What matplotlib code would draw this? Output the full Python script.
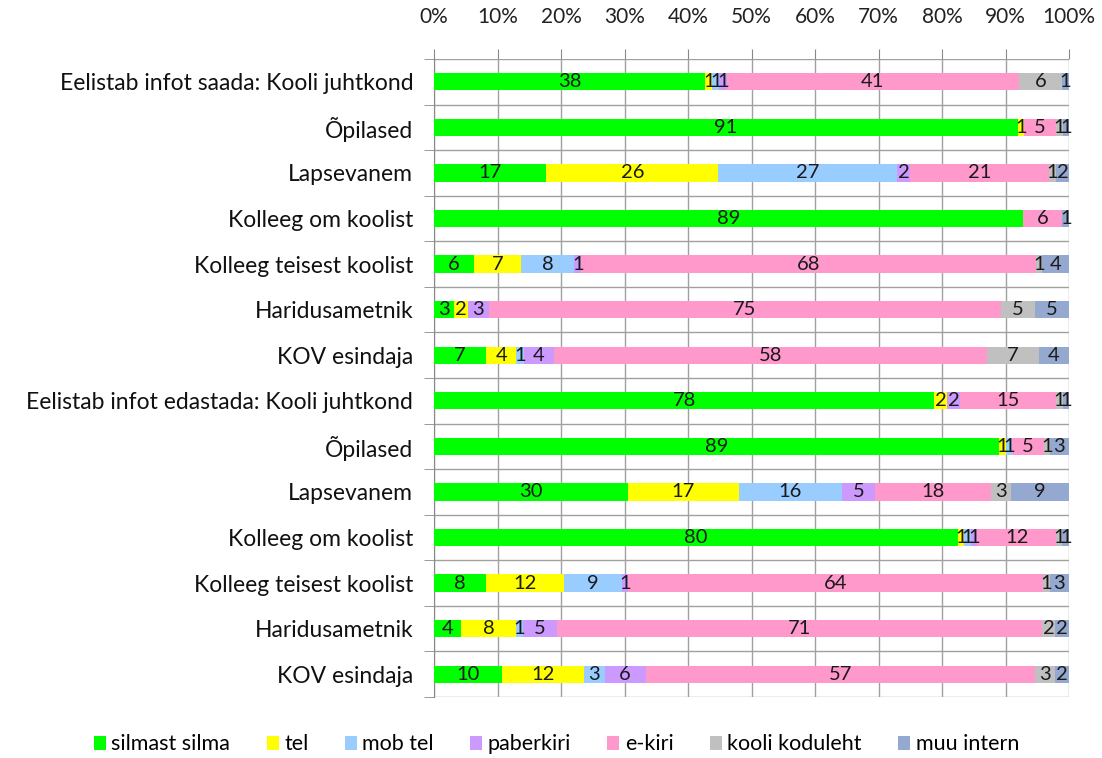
import numpy as np
import matplotlib.pyplot as plt
from matplotlib.ticker import PercentFormatter
from matplotlib.patches import Patch

plt.rcParams['font.family'] = ['Lato', 'DejaVu Sans']

# --- andmed ---
kategooriad = [
    "Eelistab infot saada: Kooli juhtkond", "Õpilased", "Lapsevanem",
    "Kolleeg om koolist", "Kolleeg teisest koolist", "Haridusametnik",
    "KOV esindaja",
    "Eelistab infot edastada: Kooli juhtkond", "Õpilased", "Lapsevanem",
    "Kolleeg om koolist", "Kolleeg teisest koolist", "Haridusametnik",
    "KOV esindaja",
]
seeriad = ["silmast silma", "tel", "mob tel", "paberkiri", "e-kiri",
           "kooli koduleht", "muu intern"]

silmast = [38, 91, 17, 89, 6, 3, 7, 78, 89, 30, 80, 8, 4, 10]
tel     = [1, 1, 26, 0, 7, 2, 4, 2, 1, 17, 1, 12, 8, 12]
mob     = [1, 0, 27, 0, 8, 0, 1, 0, 1, 16, 1, 9, 1, 3]
paber   = [1, 0, 2, 0, 1, 3, 4, 2, 0, 5, 1, 1, 5, 6]
ekiri   = [41, 5, 21, 6, 68, 75, 58, 15, 5, 18, 12, 64, 71, 57]
koduleht = [6, 1, 1, 0, 1, 5, 7, 1, 1, 3, 1, 1, 2, 3]
muu     = [1, 1, 2, 1, 4, 5, 4, 1, 3, 9, 1, 3, 2, 2]

varvid = ["#00FF00", "#FFFF00", "#99CCFF", "#CC99FF", "#FF99CC",
          "#C0C0C0", "#95A8D0"]

vaartused = np.array([silmast, tel, mob, paber, ekiri, koduleht, muu], dtype=float)
summad = vaartused.sum(axis=0)
protsent = vaartused / summad * 100

fig = plt.figure(figsize=(11.02, 7.58), dpi=100)
ax = fig.add_axes([434 / 1102, 1 - 697 / 758, 635 / 1102, 638 / 758])

y = np.arange(len(kategooriad))
vasak = np.zeros(len(kategooriad))
for i, nimi in enumerate(seeriad):
    ax.barh(y, protsent[i], left=vasak, height=0.38, color=varvid[i],
            label=nimi, zorder=3)
    for j in range(len(kategooriad)):
        v = vaartused[i, j]
        if v > 0:
            ax.text(vasak[j] + protsent[i, j] / 2, y[j], f"{int(v)}",
                    ha="center", va="center", fontsize=14.5, color="#1a1a1a",
                    zorder=4)
    vasak += protsent[i]

ax.set_xlim(0, 100)
ax.set_ylim(len(kategooriad) - 0.5, -0.5)
ax.xaxis.tick_top()
ax.set_xticks(np.arange(0, 101, 10))
ax.xaxis.set_major_formatter(PercentFormatter(decimals=0))
ax.set_yticks(y)
ax.set_yticklabels(kategooriad)
ax.set_yticks(np.arange(-0.5, len(kategooriad), 1), minor=True)

ax.tick_params(axis="x", length=7, color="#888888", labelsize=15,
               pad=16, labelcolor="#222222")
ax.tick_params(axis="y", which="major", length=0, labelsize=16.5,
               pad=15, labelcolor="#111111")
ax.tick_params(axis="y", which="minor", length=7, color="#888888")

ax.grid(axis="x", color="#a0a0a0", lw=1, zorder=0)
ax.grid(axis="y", which="minor", color="#a0a0a0", lw=1, zorder=0)
for s in ["top", "right", "bottom"]:
    ax.spines[s].set_visible(False)
ax.spines["left"].set_color("#888888")

kasitsed = [Patch(facecolor=c, edgecolor="none") for c in varvid]
fig.legend(kasitsed, seeriad, loc="center", bbox_to_anchor=(0.505, 0.018),
           ncol=7, frameon=False, fontsize=15.5, handlelength=0.55,
           handleheight=0.65, handletextpad=0.25, columnspacing=1.7)

fig.savefig("out.png", dpi=100)
